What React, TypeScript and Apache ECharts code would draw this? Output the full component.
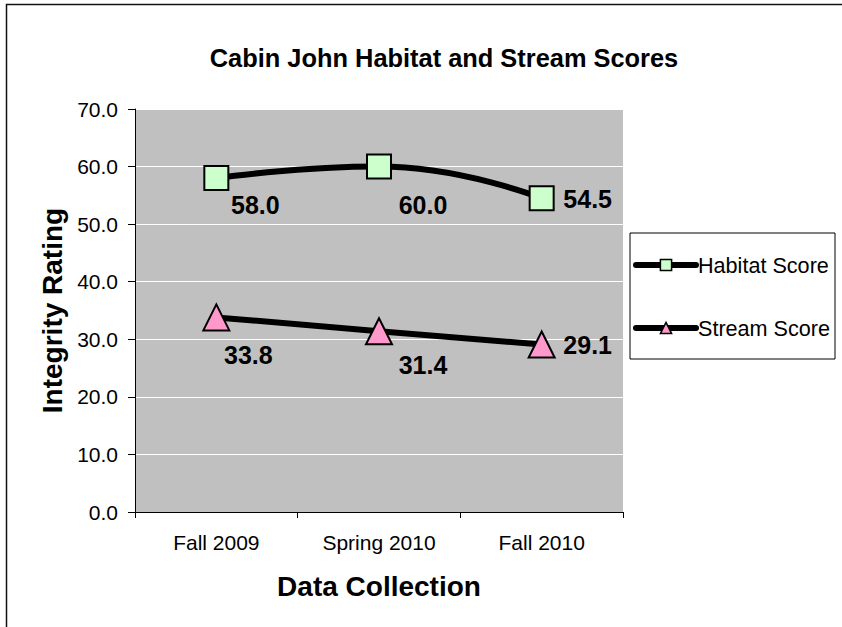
import React, { useEffect, useRef } from "react";
import * as echarts from "echarts";

const categories = ["Fall 2009", "Spring 2010", "Fall 2010"];
const habitatScores = [58.0, 60.0, 54.5];
const streamScores = [33.8, 31.4, 29.1];
const yTickMin = 0;
const yTickMax = 70;
const yTickStep = 10;

// label offsets (style, not data)
const habitatLabelOffsets = [[39, 27], [44, 38], [46, 1]];
const streamLabelOffsets = [[32, 38], [44, 34], [46, 1]];

const FONT = "'Liberation Sans', Arial, Helvetica, sans-serif";

export default function App() {
  const ref = useRef<HTMLDivElement>(null);
  useEffect(() => {
    if (!ref.current) return;
    const chart = echarts.init(ref.current, undefined, { renderer: "svg" });
    const mkData = (vals: number[], offs: number[][]) =>
      vals.map((v, i) => ({ value: v, label: { offset: offs[i] } }));
    const labelStyle = {
      show: true,
      position: "inside",
      formatter: (p: any) => Number(p.value).toFixed(1),
      fontFamily: FONT,
      fontWeight: "bold",
      fontSize: 25,
      color: "#000",
    };
    chart.setOption({
      animation: false,
      backgroundColor: "#fff",
      textStyle: { fontFamily: FONT },
      title: {
        text: "Cabin John Habitat and Stream Scores",
        left: 439,
        top: 53,
        textAlign: "center",
        textVerticalAlign: "middle",
        textStyle: { fontFamily: FONT, fontWeight: "bold", fontSize: 25.4, color: "#000" },
      },
      graphic: [
        {
          type: "polyline",
          shape: { points: [[6.5, 700], [6.5, 4.5], [900, 4.5]] },
          style: { stroke: "#111", lineWidth: 1.5, fill: "none" },
          silent: true,
        },
      ],
      legend: {
        orient: "vertical",
        left: 630,
        top: 233,
        padding: [21, 5, 20, 3],
        itemWidth: 60,
        itemHeight: 14,
        itemGap: 41,
        backgroundColor: "#fff",
        borderColor: "#000",
        borderWidth: 1,
        borderRadius: 0,
        lineStyle: { width: 6, color: "#000", cap: "round" },
        itemStyle: { borderWidth: 1.5, borderColor: "#000" },
        textStyle: {
          fontFamily: FONT,
          fontSize: 21.6,
          color: "#000",
          padding: [0, 0, 0, -3],
        },
        data: ["Habitat Score", "Stream Score"],
      },
      grid: {
        left: 135,
        top: 109,
        width: 488,
        height: 403,
        show: true,
        backgroundColor: "#C0C0C0",
        borderWidth: 0,
        containLabel: false,
      },
      xAxis: {
        type: "category",
        data: categories,
        boundaryGap: true,
        name: "Data Collection",
        nameLocation: "middle",
        nameGap: 60,
        nameTextStyle: { fontFamily: FONT, fontWeight: "bold", fontSize: 28, color: "#000" },
        axisLine: { lineStyle: { color: "#000", width: 1 } },
        axisTick: { show: true, length: 6, alignWithLabel: false, lineStyle: { color: "#000" } },
        axisLabel: { fontFamily: FONT, fontSize: 21, color: "#000", margin: 20 },
        splitLine: { show: false },
      },
      yAxis: {
        type: "value",
        min: yTickMin,
        max: yTickMax,
        interval: yTickStep,
        name: "Integrity Rating",
        nameLocation: "middle",
        nameGap: 65,
        nameRotate: 90,
        nameTextStyle: { fontFamily: FONT, fontWeight: "bold", fontSize: 28, color: "#000" },
        axisLine: { show: true, lineStyle: { color: "#000", width: 1 } },
        axisTick: { show: true, length: 7, lineStyle: { color: "#000" } },
        axisLabel: {
          fontFamily: FONT,
          fontSize: 21,
          color: "#000",
          margin: 17,
          formatter: (v: number) => v.toFixed(1),
        },
        splitLine: { show: true, lineStyle: { color: "#fff", width: 1 } },
      },
      series: [
        {
          name: "Habitat Score",
          type: "line",
          smooth: 0.5,
          data: mkData(habitatScores, habitatLabelOffsets),
          symbol: "rect",
          symbolSize: 24,
          lineStyle: { color: "#000", width: 6, cap: "round" },
          itemStyle: { color: "#CCFFCC", borderColor: "#000", borderWidth: 2 },
          label: labelStyle,
          z: 3,
        },
        {
          name: "Stream Score",
          type: "line",
          smooth: 0.5,
          data: mkData(streamScores, streamLabelOffsets),
          symbol: "triangle",
          symbolSize: 26,
          lineStyle: { color: "#000", width: 6, cap: "round" },
          itemStyle: { color: "#FF99CC", borderColor: "#000", borderWidth: 2 },
          label: labelStyle,
          z: 3,
        },
      ],
    });
    return () => chart.dispose();
  }, []);
  return (
    <div
      ref={ref}
      style={{ position: "absolute", left: 0, top: 0, width: 842, height: 627 }}
    />
  );
}
